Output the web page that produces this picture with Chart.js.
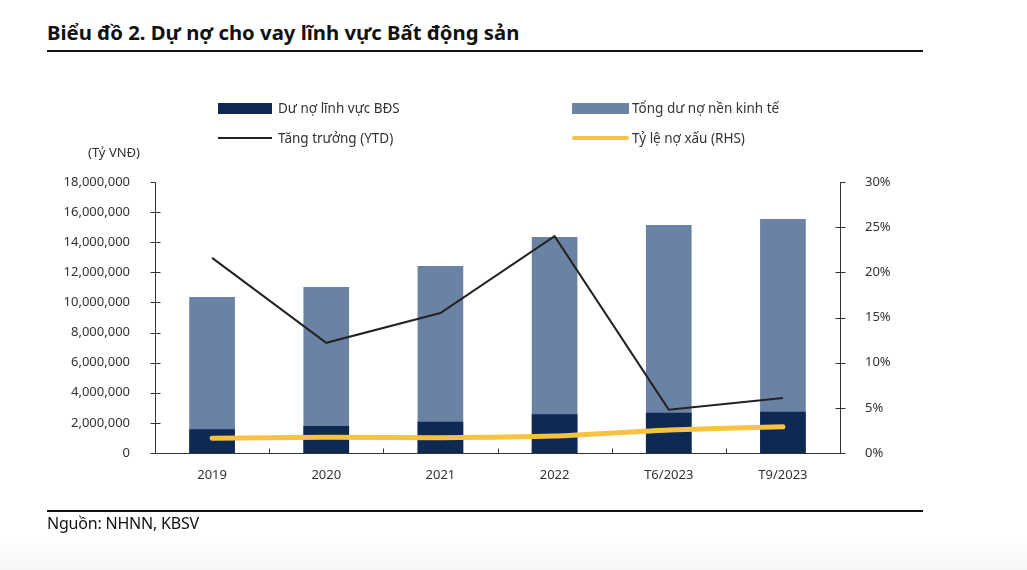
<!DOCTYPE html>
<html>
<head>
<meta charset="utf-8">
<script src="https://cdn.jsdelivr.net/npm/chart.js@4.4.0/dist/chart.umd.min.js"></script>
<style>
  html, body { margin:0; padding:0; width:1027px; height:570px; overflow:hidden; background:#fff; font-family:"Noto Sans", sans-serif; }
  #bg { position:absolute; left:0; top:540px; width:1027px; height:30px; background:linear-gradient(#ffffff, #f6f6f6); }
  #title { position:absolute; left:47px; top:18px; font-size:20.3px; font-weight:700; color:#111; letter-spacing:0px; white-space:nowrap; }
  #hr1 { position:absolute; left:47px; top:50px; width:876px; height:2px; background:#111; }
  #hr2 { position:absolute; left:47px; top:510px; width:876px; height:2px; background:#111; }
  #source { position:absolute; left:47px; top:512px; font-size:16px; color:#111; letter-spacing:-0.2px; }
  #unit { position:absolute; left:88px; top:143px; font-size:13px; color:#333; }
  .lg { position:absolute; font-size:13.5px; color:#333; white-space:nowrap; line-height:18px; }
  .sw { position:absolute; }
  #wrap { position:absolute; left:0; top:0; width:1027px; height:570px; }
</style>
</head>
<body>
<div id="bg"></div>
<div id="title">Biểu đồ 2. Dự nợ cho vay lĩnh vực Bất động sản</div>
<div id="hr1"></div>
<div id="wrap"><canvas id="c" width="1027" height="570"></canvas></div>
<div id="unit">(Tỷ VNĐ)</div>
<div class="sw" style="left:218px;top:103px;width:54px;height:11px;background:#0E2A52"></div>
<div class="lg" style="left:278px;top:99px">Dư nợ lĩnh vực BĐS</div>
<div class="sw" style="left:572px;top:103px;width:57px;height:11px;background:#6A82A3"></div>
<div class="lg" style="left:632px;top:99px">Tổng dư nợ nền kinh tế</div>
<div class="sw" style="left:218px;top:137px;width:54px;height:2px;background:#222"></div>
<div class="lg" style="left:278px;top:129px">Tăng trưởng (YTD)</div>
<div class="sw" style="left:572px;top:136px;width:57px;height:4px;background:#F5C242;border-radius:2px"></div>
<div class="lg" style="left:632px;top:129px">Tỷ lệ nợ xấu (RHS)</div>
<div id="hr2"></div>
<div id="source">Nguồn: NHNN, KBSV</div>
<script>
const categories = ["2019", "2020", "2021", "2022", "T6/2023", "T9/2023"];
const duNoBDS = [1570000, 1790000, 2080000, 2570000, 2680000, 2740000];
const tongDuNo = [10360000, 11020000, 12420000, 14340000, 15140000, 15540000];
const tangTruong = [21.6, 12.2, 15.5, 24.0, 4.8, 6.1];
const tyLeNoXau = [1.63, 1.74, 1.70, 1.88, 2.55, 2.90];
const leftTicks = [0, 2000000, 4000000, 6000000, 8000000, 10000000, 12000000, 14000000, 16000000, 18000000];
const rightTicks = [0, 5, 10, 15, 20, 25, 30];

const tickPlugin = {
  id: 'tickMarks',
  afterDraw(chart) {
    const ctx = chart.ctx;
    const x = chart.scales.x, y = chart.scales.y, y1 = chart.scales.y1;
    ctx.save();
    ctx.strokeStyle = '#333';
    ctx.lineWidth = 1;
    ctx.beginPath();
    const L = Math.round(chart.chartArea.left) + 0.5;
    const R = Math.round(chart.chartArea.right) + 0.5;
    const B = Math.round(chart.chartArea.bottom) + 0.5;
    y.ticks.forEach(t => {
      const py = Math.round(y.getPixelForValue(t.value)) + 0.5;
      ctx.moveTo(L - 5, py); ctx.lineTo(t.value === leftTicks[leftTicks.length-1] ? L : L + 5, py);
    });
    y1.ticks.forEach(t => {
      const py = Math.round(y1.getPixelForValue(t.value)) + 0.5;
      ctx.moveTo(t.value === rightTicks[rightTicks.length-1] ? R : R - 5, py); ctx.lineTo(R + 5, py);
    });
    for (let i = 1; i < categories.length; i++) {
      const px = Math.round((x.getPixelForValue(i - 1) + x.getPixelForValue(i)) / 2) + 0.5;
      ctx.moveTo(px, B); ctx.lineTo(px, B - 5);
    }
    ctx.stroke();
    ctx.restore();
  }
};

new Chart(document.getElementById('c'), {
  type: 'bar',
  data: {
    labels: categories,
    datasets: [
      { type: 'line', label: 'Tỷ lệ nợ xấu (RHS)', data: tyLeNoXau, yAxisID: 'y1', borderColor: '#F5C242', borderWidth: 5, pointRadius: 0, tension: 0.2, order: 0, borderCapStyle: 'round' },
      { type: 'line', label: 'Tăng trưởng (YTD)', data: tangTruong, yAxisID: 'y1', borderColor: '#222222', borderWidth: 2, pointRadius: 0, tension: 0, order: 0 },
      { label: 'Dư nợ lĩnh vực BĐS', data: duNoBDS, yAxisID: 'y', backgroundColor: '#0E2A52', categoryPercentage: 1, barPercentage: 0.4, order: 1 },
      { label: 'Tổng dư nợ nền kinh tế', data: tongDuNo, yAxisID: 'y', backgroundColor: '#6A82A3', categoryPercentage: 1, barPercentage: 0.4, order: 2 }
    ]
  },
  options: {
    responsive: false,
    animation: false,
    layout: { padding: { left: 0, right: 0, top: 182, bottom: 0 } },
    plugins: { legend: { display: false }, tooltip: { enabled: false } },
    scales: {
      x: {
        stacked: true,
        grid: { display: false },
        border: { display: true, color: '#333' },
        ticks: { color: '#333', font: { family: 'Noto Sans', size: 13 }, padding: 6 },
        afterFit(s) { s.height = 117; }
      },
      y: {
        position: 'left',
        min: 0, max: 18000000,
        afterBuildTicks(s) { s.ticks = leftTicks.map(v => ({ value: v })); },
        grid: { display: false },
        border: { display: true, color: '#333' },
        ticks: { color: '#333', font: { family: 'Noto Sans', size: 13 }, padding: 17,
          callback: v => v.toLocaleString('en-US') },
        afterFit(s) { s.width = 155; }
      },
      y1: {
        position: 'right',
        min: 0, max: 30,
        afterBuildTicks(s) { s.ticks = rightTicks.map(v => ({ value: v })); },
        grid: { display: false },
        border: { display: true, color: '#333' },
        ticks: { color: '#333', font: { family: 'Noto Sans', size: 13 }, padding: 17,
          callback: v => v + '%' },
        afterFit(s) { s.width = 187; }
      }
    }
  },
  plugins: [tickPlugin]
});
</script>
</body>
</html>
